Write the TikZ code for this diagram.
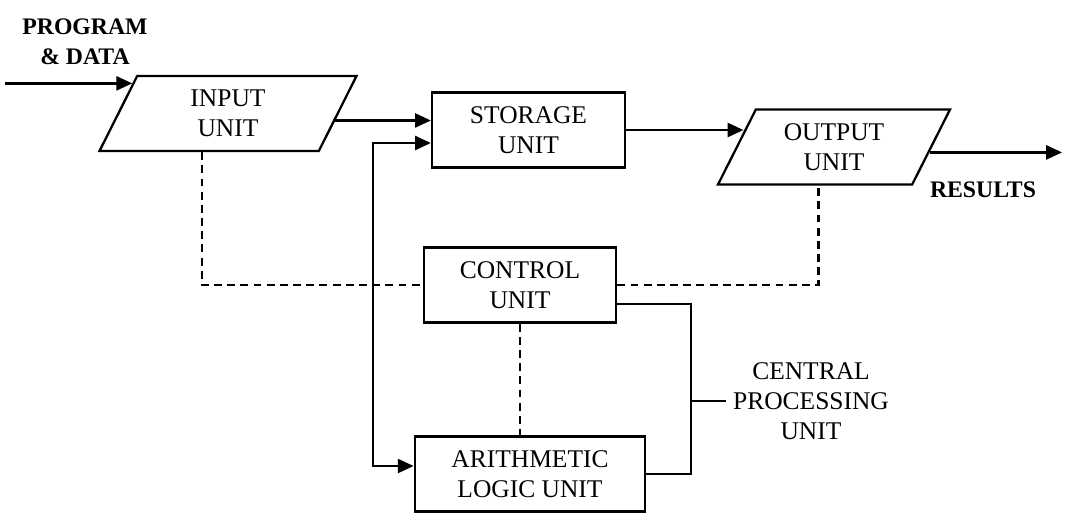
\documentclass[tikz,border=0pt]{standalone}
\usepackage{fontspec}
\setmainfont{Liberation Serif}
\usetikzlibrary{shapes.geometric, arrows.meta, calc}

\begin{document}
\begin{tikzpicture}[>={Triangle[length=9pt,width=8pt]}, line width=1.3pt, font=\fontsize{14.5}{17}\selectfont]

    \tikzstyle{unit} = [draw, rectangle, minimum height=1.5cm, align=center, inner sep=2pt]
    \tikzstyle{io} = [draw, trapezium, trapezium left angle=55, trapezium right angle=125, trapezium stretches body, minimum height=1.5cm, align=center, inner sep=2pt]
    \tikzstyle{link} = [dash pattern=on 4.5pt off 3pt]
    \tikzstyle{tag} = [font=\fontsize{13.5}{17}\selectfont\bfseries, align=center]

    \useasboundingbox (0,0) rectangle (21.3,-10.58);

    % Units
    \node[io, minimum width=5.14cm] (in) at (4.56,-2.27) {INPUT\\UNIT};
    \node[unit, minimum width=3.86cm] (st) at (10.57,-2.6) {STORAGE\\UNIT};
    \node[io, minimum width=4.64cm] (out) at (16.68,-2.94) {OUTPUT\\UNIT};
    \node[unit, minimum width=3.85cm] (ct) at (10.4,-5.7) {CONTROL\\UNIT};
    \node[unit, minimum width=4.61cm] (alu) at (10.6,-9.48) {ARITHMETIC\\LOGIC UNIT};

    % Labels
    \node[tag] (prog) at (1.7,-0.84) {PROGRAM\\\& DATA};
    \node[tag] (results) at (19.66,-3.8) {RESULTS};
    \node[align=center] (cpu) at (16.22,-8.02) {CENTRAL\\PROCESSING\\UNIT};

    % Points on the slanted sides
    \coordinate (pd) at (0.1,0);
    \coordinate (res) at (21.24,0);
    \coordinate (pdin) at ($(in.top left corner)!0.11!(in.bottom left corner)$);
    \coordinate (inr) at ($(in.top right corner)!0.59!(in.bottom right corner)$);
    \coordinate (inb) at ($(in.bottom left corner)!0.47!(in.bottom right corner)$);
    \coordinate (outl) at ($(out.top left corner)!0.3!(out.bottom left corner)$);
    \coordinate (outr) at ($(out.top right corner)!0.57!(out.bottom right corner)$);
    \coordinate (outb) at ($(out.bottom left corner)!0.52!(out.bottom right corner)$);

    % Data flow
    \draw[->] (pdin -| pd) -- (pdin);
    \draw[->] (inr) -- (inr -| st.west);
    \draw[->] (st.east) -- (st.east -| outl);
    \draw[->] (outr) -- (outr -| res);
    \draw[<->] ([yshift=-2.6mm]st.west) -- ++(-1.16,0) |- ([yshift=1.6mm]alu.west);

    % Control signals
    \draw[link] (inb) |- (ct.west);
    \draw[link] (ct.east) -| (outb);
    \draw[link] (ct.south) -- (ct.south |- alu.north);

    % CPU bracket
    \draw ([yshift=-3.8mm]ct.east) -- ++(1.47,0) coordinate (br) |- (alu.east);
    \draw (br |- cpu.west) -- (cpu.west);
\end{tikzpicture}
\end{document}
